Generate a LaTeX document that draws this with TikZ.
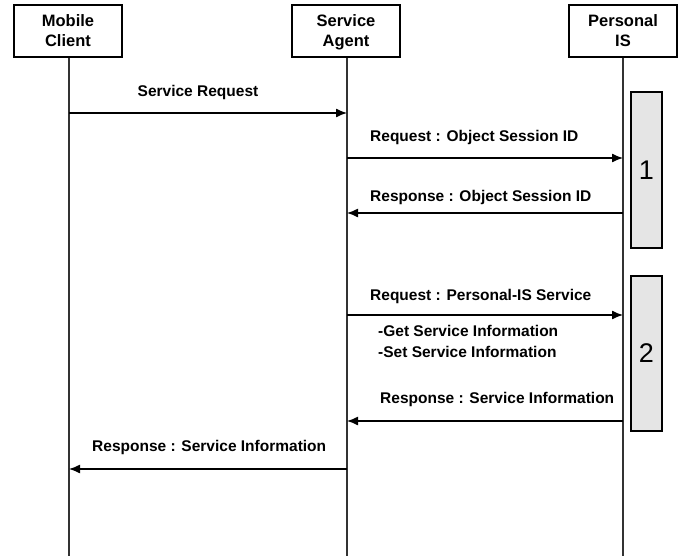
\documentclass[tikz,border=0pt]{standalone}
\usepackage{fontspec}
\setmainfont{Liberation Sans}
\usetikzlibrary{arrows.meta}
\begin{document}
\begin{tikzpicture}[x=1pt,y=-1pt,
  actor/.style={draw, line width=1.3pt, minimum width=108pt, minimum height=52pt,
    align=center, inner sep=0pt, font=\bfseries\fontsize{16.5}{20}\selectfont},
  lifeline/.style={draw=black!80, line width=1.4pt},
  msg/.style={draw, line width=1.3pt, -{Latex[length=11pt,width=9pt]}},
  lbl/.style={inner sep=0pt, font=\bfseries\fontsize{15.5}{18}\selectfont},
  actbox/.style={draw, fill=black!10, line width=1.3pt, minimum width=31pt,
    inner sep=0pt, font=\fontsize{27}{27}\selectfont}
]
\useasboundingbox (0,0) rectangle (688,559);

% participants (descender of "Agent" ignored so all headers sit alike)
\node[actor] (mc) at (68,31) {Mobile\\Client};
\node[actor] (sa) at (346,31) {Service\\\raisebox{0pt}[\height][0pt]{Agent}};
\node[actor] (pis) at (623,31) {Personal\\IS};

% lifelines
\coordinate (mcend) at (69,556);
\coordinate (saend) at (347,556);
\coordinate (pisend) at (623,556);
\draw[lifeline] (mc.south -| mcend) -- (mcend);
\draw[lifeline] (sa.south -| saend) -- (saend);
\draw[lifeline] (pis.south -| pisend) -- (pisend);

% activation boxes
\node[actbox, minimum height=156pt] (act1) at (646.5,170) {1};
\node[actbox, minimum height=155pt] (act2) at (646.5,353.5) {2};

% message end points on the lifelines
\coordinate (m1s) at (69,113);  \coordinate (m1e) at (347,113);
\coordinate (m2s) at (347,158); \coordinate (m2e) at (623,158);
\coordinate (m3s) at (623,213); \coordinate (m3e) at (347,213);
\coordinate (m4s) at (347,315); \coordinate (m4e) at (623,315);
\coordinate (m5s) at (623,421); \coordinate (m5e) at (347,421);
\coordinate (m6s) at (347,469); \coordinate (m6e) at (69,469);

% messages
\draw[msg] (m1s) -- (m1e);
\draw[msg] (m2s) -- (m2e);
\draw[msg] (m3s) -- (m3e);
\draw[msg] (m4s) -- (m4e);
\draw[msg] (m5s) -- (m5e);
\draw[msg] (m6s) -- (m6e);

% labels
\node[lbl] (l1) at (198,92) {Service Request};
\node[lbl, anchor=west] (l2) at (370,137) {Request : Object Session ID};
\node[lbl, anchor=west] (l3) at (370,197) {Response : Object Session ID};
\node[lbl, anchor=west] (l4) at (370,296) {Request : Personal-IS Service};
\node[lbl, anchor=west] (l5) at (378,331) {-Get Service Information};
\node[lbl, anchor=west] (l6) at (378,352) {-Set Service Information};
\node[lbl, anchor=west] (l7) at (380,399) {Response : Service Information};
\node[lbl, anchor=west] (l8) at (92,447) {Response : Service Information};
\end{tikzpicture}
\end{document}
